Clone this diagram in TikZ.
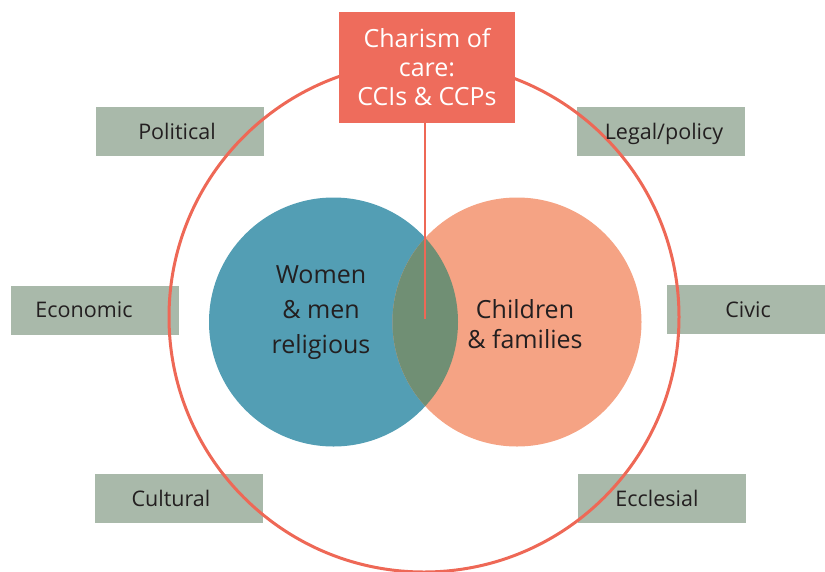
\documentclass[tikz,border=0pt]{standalone}
\usepackage{fontspec}
\setmainfont{Open Sans}
\usepackage{tikz}
\usetikzlibrary{calc}

\definecolor{charismred}{RGB}{238,108,92}
\definecolor{ringred}{RGB}{238,104,86}
\definecolor{religblue}{RGB}{83,158,180}
\definecolor{familypeach}{RGB}{245,163,132}
\definecolor{overlapgreen}{RGB}{112,143,116}
\definecolor{contextgrey}{RGB}{169,185,170}
\definecolor{inkdark}{RGB}{35,31,32}

\begin{document}
\begin{tikzpicture}[
        x=1pt, y=-1pt,
        every node/.style={inner sep=0pt, outer sep=0pt},
        context/.style={fill=contextgrey, minimum width=168pt, minimum height=49pt},
        contextlabel/.style={anchor=base, text=inkdark, font=\fontsize{21.5}{26}\selectfont},
        ring/.style={draw=ringred, line width=3pt, circle, minimum size=510pt},
        venn/.style={circle, minimum size=249pt},
        venntext/.style={text=inkdark, align=center},
        charism/.style={fill=charismred, text=white, align=center, minimum width=176pt, minimum height=111pt, font=\fontsize{25}{29}\selectfont},
        line/.style={draw=ringred, line width=1.5pt}
    ]
        \useasboundingbox (0,0) rectangle (825,571);

        % Context boxes
        \node[context] (political) at (180,131.5) {};
        \node[context] (legal) at (661,131.5) {};
        \node[context] (economic) at (95,310) {};
        \node[context] (civic) at (751,309.5) {};
        \node[context] (cultural) at (179,498.5) {};
        \node[context] (ecclesial) at (661.5,498.5) {};

        % Outer ring
        \node[ring] (ring) at (424,317) {};

        % Context labels
        \node[contextlabel] (politicallabel) at ($(political.center)+(-3,7.7)$) {Political};
        \node[contextlabel] (legallabel) at ($(legal.center)+(3,7.7)$) {Legal/policy};
        \node[contextlabel] (economiclabel) at ($(economic.center)+(-11,7.7)$) {Economic};
        \node[contextlabel] (civiclabel) at ($(civic.center)+(-3,7.7)$) {Civic};
        \node[contextlabel] (culturallabel) at ($(cultural.center)+(-8,7.7)$) {Cultural};
        \node[contextlabel] (ecclesiallabel) at ($(ecclesial.center)+(-4.5,7.7)$) {Ecclesial};

        % Venn circles
        \node[venn, fill=religblue] (religious) at (333.5,322) {};
        \node[venn, fill=familypeach] (families) at (517,322) {};
        \begin{scope}
            \clip (families.center) circle (124.5pt);
            \fill[overlapgreen] (religious.center) circle (124.5pt);
        \end{scope}
        \node[venntext, font=\fontsize{25}{35}\selectfont] (religioustext) at (321,313) {Women\\\& men\\religious};
        \node[venntext, font=\fontsize{25}{30}\selectfont] (familiestext) at (525,324.5) {Children\\\& families};

        % Charism box and stem
        \coordinate (lenscore) at (425,319);
        \node[charism] (charism) at (427,67.5) {Charism of\\care:\\CCIs \& CCPs};
        \draw[line] (charism.south -| lenscore) -- (lenscore);
    \end{tikzpicture}
\end{document}
